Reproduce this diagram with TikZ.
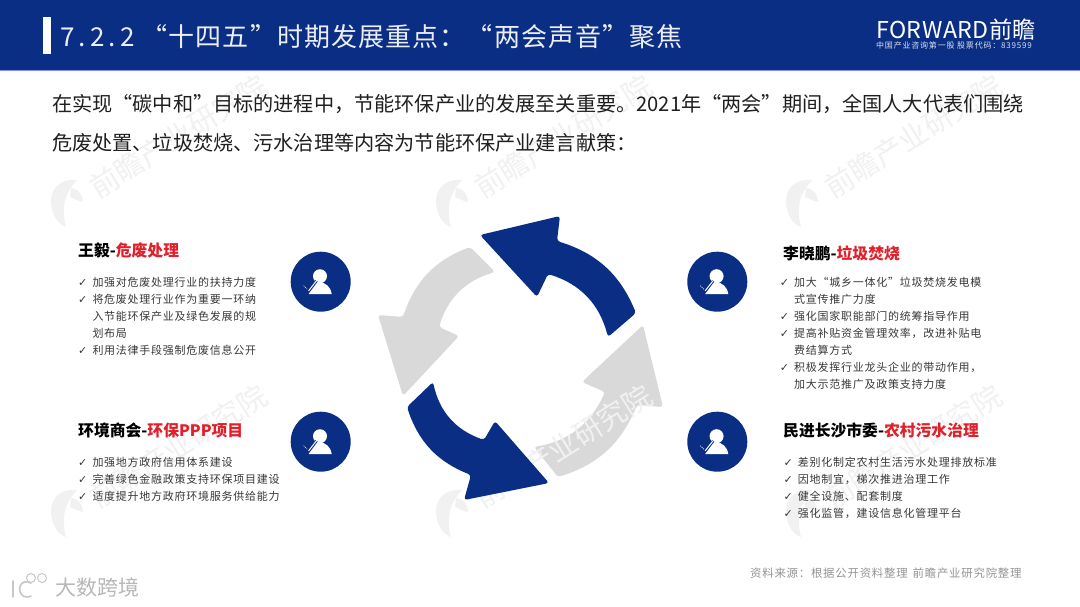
\documentclass[tikz,border=0pt]{standalone}
\usepackage{fontspec}
\setmainfont{Noto Sans CJK SC}
\newfontfamily\cjktitle[LetterSpace=4.3]{Noto Sans CJK SC}
\newfontfamily\cjkdigits[LetterSpace=16]{Noto Sans CJK SC}
\newfontfamily\cjkbody{Noto Sans CJK SC}
\newfontfamily\cjksmall[LetterSpace=6.8]{Noto Sans CJK SC}
\newfontfamily\cjktiny[LetterSpace=10]{Noto Sans CJK SC}
\newfontfamily\cjklogo[LetterSpace=2]{Noto Sans CJK SC}
\newfontfamily\tickfont{DejaVu Sans}
\definecolor{navy}{HTML}{0B2E85}
\definecolor{arrowgray}{HTML}{D9D9D9}
\definecolor{headred}{HTML}{E0202A}
\definecolor{wmark}{HTML}{F1F1F1}
\newcommand{\zhc}{^^^^ff0c}
\newcommand{\zhk}{^^^^ff1a}
\newcommand{\tickmark}{\makebox[14.3pt][l]{\fontsize{11}{12}\tickfont ✓}}
\tikzset{
  txt/.style={anchor=west,inner sep=0pt},
  titletxt/.style={txt,text=white!92!navy,font=\fontsize{26}{30}\cjktitle},
  bodytxt/.style={txt,text=black!88,font=\fontsize{20.15}{24}\cjkbody},
  headtxt/.style={txt,text=black,font=\fontsize{15.8}{20}\cjkbody\bfseries},
  itemtxt/.style={txt,text=black!78,font=\fontsize{11}{14}\cjksmall},
  srctxt/.style={txt,text=black!42,font=\fontsize{11.4}{14}\cjksmall},
  navycirc/.style={circle,fill=navy,minimum size=60pt,inner sep=0pt},
  wmtxt/.style={anchor=west,inner sep=0pt,text=wmark,rotate=32,font=\fontsize{29}{32}\cjkbody},
  personicon/.pic={
    \fill[white] (-0.7,-5.5) circle (7);
    \fill[white] (-12,12.5) .. controls (-11,5) and (-7,2) .. (-2,0)
       .. controls (5,1) and (10,5) .. (11,12.5) -- cycle;
    \draw[navy,line width=2.6pt] (-13,11) -- (-4,-1);
    \draw[white,line width=1pt,line cap=round] (-12,9) -- (-5,0) .. controls (-4,-2) and (-2,-3) .. (-1,-2);
    \draw[white,line width=.7pt,dash pattern=on 1pt off 1pt] (-17,4) -- (-13,8);
  },
  wmark logo/.pic={
    \fill[wmark] (-14,-4) .. controls (-14,-18) and (-2,-27) .. (12,-25)
      .. controls (3,-15) and (-2,-5) .. (-1,8) .. controls (-1,14) and (0,19) .. (1,22)
      .. controls (-8,19) and (-14,8) .. (-14,-4) -- cycle;
    \fill[wmark] (6,-17) .. controls (14,-16) and (18,-10) .. (18,-3)
      .. controls (13,-4) and (8,-7) .. (5,-8) -- cycle;
  }
}
\begin{document}
\begin{tikzpicture}[x=1pt,y=-1pt]
\useasboundingbox (0,0) rectangle (1080,607);
\fill[white] (0,0) rectangle (1080,607);

% gray arrows
\fill[arrowgray,rounded corners=3pt] (403,396) -- (378,315) -- (403,317)
  to[bend left=25] (470,247) -- (495,272) to[bend right=28] (439,327) -- (459,336) -- cycle;
\fill[arrowgray,rounded corners=3pt] (643,325) -- (663,407) -- (637,405)
  to[bend left=25] (558,477) -- (534,447) to[bend right=28] (605,392) -- (582,382) -- cycle;

% watermarks
\foreach \wx/\wy in {65/205,450/205,800/205,65/515,450/515,800/515}{
  \begin{scope}[shift={(\wx,\wy)}]
    \pic {wmark logo};
    \node[wmtxt] at (27,-15) {前瞻产业研究院};
  \end{scope}
}

% blue arrows
\fill[navy,rounded corners=3pt] (480,235) -- (560,216) -- (557,241)
  to[bend left=25] (636,313) -- (608,337) to[bend right=29] (548,274) -- (537,297) -- cycle;
\fill[navy,rounded corners=3pt] (549,483) -- (464,500) -- (471,475)
  to[bend left=25] (407,407) -- (433,382) to[bend right=29] (484,440) -- (495,421) -- cycle;

% header
\fill[navy] (0,0) rectangle (1080,70);
\fill[black!0!blue!45!white] (0,70) rectangle (1080,71);
\fill[white] (43,17) rectangle (51,54);
\node[titletxt] (title) at (60,37) {{\cjkdigits 7.2.2} “十四五”时期发展重点\zhk{}“两会声音”聚焦};
\node[txt,text=white,font=\fontsize{23.2}{26}\cjklogo] (logo) at (876,30) {FORWARD前瞻};
\node[txt,text=white!85!navy,font=\fontsize{8}{10}\cjktiny] (logosub) at (876,45.5) {中国产业咨询第一股 股票代码\zhk{}839599};

% intro
\node[bodytxt] (intro1) at (52,104) {在实现“碳中和”目标的进程中\zhc{}节能环保产业的发展至关重要。2021年“两会”期间\zhc{}全国人大代表们围绕};
\node[bodytxt] (intro2) at (52,143) {危废处置、垃圾焚烧、污水治理等内容为节能环保产业建言献策\zhk{}};

% circles
\node[navycirc] (c1) at (320.7,281.7) {};
\node[navycirc] (c2) at (320.7,441.7) {};
\node[navycirc] (c3) at (717.3,281.7) {};
\node[navycirc] (c4) at (717.3,441.7) {};
\pic at (c1) {personicon};
\pic at (c2) {personicon};
\pic at (c3) {personicon};
\pic at (c4) {personicon};

% top left
\node[headtxt] (h1) at (78,250) {王毅-\textcolor{headred}{危废处理}};
\node[itemtxt] (a1) at (78,282) {\tickmark 加强对危废处理行业的扶持力度};
\node[itemtxt] (a2) at (78,299) {\tickmark 将危废处理行业作为重要一环纳};
\node[itemtxt] (a3) at (92.3,316) {入节能环保产业及绿色发展的规};
\node[itemtxt] (a4) at (92.3,333) {划布局};
\node[itemtxt] (a5) at (78,350) {\tickmark 利用法律手段强制危废信息公开};

% bottom left
\node[headtxt] (h2) at (78,430) {环境商会-\textcolor{headred}{环保PPP项目}};
\node[itemtxt] (b1) at (78,462) {\tickmark 加强地方政府信用体系建设};
\node[itemtxt] (b2) at (78,479) {\tickmark 完善绿色金融政策支持环保项目建设};
\node[itemtxt] (b3) at (78,496) {\tickmark 适度提升地方政府环境服务供给能力};

% top right
\node[headtxt] (h3) at (783,253) {李晓鹏-\textcolor{headred}{垃圾焚烧}};
\node[itemtxt] (d1) at (779.7,282) {\tickmark 加大“城乡一体化”垃圾焚烧发电模};
\node[itemtxt] (d2) at (794,299) {式宣传推广力度};
\node[itemtxt] (d3) at (779.7,316) {\tickmark 强化国家职能部门的统筹指导作用};
\node[itemtxt] (d4) at (779.7,333) {\tickmark 提高补贴资金管理效率\zhc{}改进补贴电};
\node[itemtxt] (d5) at (794,350) {费结算方式};
\node[itemtxt] (d6) at (779.7,367) {\tickmark 积极发挥行业龙头企业的带动作用\zhc};
\node[itemtxt] (d7) at (794,384) {加大示范推广及政策支持力度};

% bottom right
\node[headtxt] (h4) at (783,430) {民进长沙市委-\textcolor{headred}{农村污水治理}};
\node[itemtxt] (e1) at (783.4,462) {\tickmark 差别化制定农村生活污水处理排放标准};
\node[itemtxt] (e2) at (783.4,479) {\tickmark 因地制宜\zhc{}梯次推进治理工作};
\node[itemtxt] (e3) at (783.4,496) {\tickmark 健全设施、配套制度};
\node[itemtxt] (e4) at (783.4,513) {\tickmark 强化监管\zhc{}建设信息化管理平台};

% source
\node[srctxt] (src) at (750,573) {资料来源\zhk{}根据公开资料整理\hspace{5pt}前瞻产业研究院整理};

% bottom-left mark
\draw[black!22,line width=1.6pt,line cap=round] (13,581) -- (13,597);
\draw[black!22,line width=1.6pt,line cap=round] (31,583) .. controls (20,578) and (17,590) .. (22,595) .. controls (25,598) and (29,597) .. (31,596);
\draw[black!22,line width=1pt] (31,578) circle (4.5);
\draw[black!22,line width=1pt] (42,578) circle (4.5);
\node[txt,text=black!28,font=\fontsize{21}{24}\cjkbody] (wm) at (55,587) {大数跨境};
\end{tikzpicture}
\end{document}
